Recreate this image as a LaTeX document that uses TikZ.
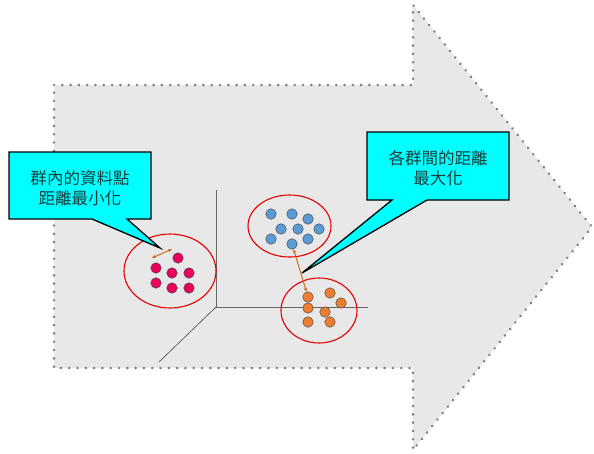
\documentclass[tikz,border=0pt]{standalone}
\usepackage{fontspec}
\newfontfamily\cjk{Noto Sans CJK TC}
\usetikzlibrary{arrows.meta,decorations.markings}
\definecolor{bgfill}{RGB}{232,232,232}
\definecolor{dotgray}{RGB}{128,128,128}
\definecolor{pinkdot}{RGB}{232,0,92}
\definecolor{bluedot}{RGB}{91,155,213}
\definecolor{orangedot}{RGB}{237,125,49}
\definecolor{arrowbrown}{RGB}{204,110,30}
\definecolor{calltext}{RGB}{30,60,60}
\definecolor{callfill}{RGB}{0,255,255}
\tikzset{
  bigarrow/.style={fill=bgfill},
  bigborder/.style={decoration={markings, mark=between positions 0 and 1 step 8.3pt with {\fill[dotgray] (0,0) circle (1.45pt);}}, decorate},
  axis/.style={draw=black!60, line width=0.8pt},
  cluster/.style={draw=red!90!black, line width=1.1pt},
  datapt/.style={circle, inner sep=0pt, minimum size=10.5pt, draw=black!70, line width=0.5pt},
  pinkpt/.style={datapt, fill=pinkdot},
  bluept/.style={datapt, fill=bluedot},
  orangept/.style={datapt, fill=orangedot},
  callout/.style={fill=callfill, draw=black, line width=1.3pt, line join=miter},
  calltxt/.style={font=\cjk\fontsize{16.5}{20}\selectfont, text=calltext, align=center, inner sep=0pt},
  distarrow/.style={draw=arrowbrown, line width=1pt, {Stealth[length=4pt,width=3.5pt]}-{Stealth[length=4pt,width=3.5pt]}},
}
\begin{document}
\begin{tikzpicture}[x=1pt,y=-1pt]
\useasboundingbox (0,0) rectangle (594,453);
% big arrow background
\path[bigarrow] (54,85) -- (413,85) -- (413,5) -- (592,227) -- (413,450) -- (413,368) -- (54,368) -- cycle;
\path[bigborder] (54,85) -- (413,85) -- (413,5) -- (592,227) -- (413,450) -- (413,368) -- (54,368) -- cycle;
% axes
\coordinate (O) at (216,307);
\coordinate (Ytop) at (216,190);
\coordinate (Xend) at (368,307);
\coordinate (Zend) at (159,362);
\draw[axis] (Ytop) -- (O) -- (Xend);
\draw[axis] (O) -- (Zend);
% cluster ellipses
\draw[cluster] (170,271) ellipse [x radius=46, y radius=37];
\draw[cluster] (289.5,226) ellipse [x radius=41.5, y radius=31];
\draw[cluster] (319,310.5) ellipse [x radius=38, y radius=32.5];
% pink points
\node[pinkpt] (p1) at (178,258) {};
\node[pinkpt] (p2) at (156,268) {};
\node[pinkpt] (p3) at (172,273) {};
\node[pinkpt] (p4) at (189,273) {};
\node[pinkpt] (p5) at (156,283) {};
\node[pinkpt] (p6) at (172,288) {};
\node[pinkpt] (p7) at (189,288) {};
% blue points
\node[bluept] (b1) at (271,214) {};
\node[bluept] (b2) at (292,214) {};
\node[bluept] (b3) at (308,219) {};
\node[bluept] (b4) at (281,229) {};
\node[bluept] (b5) at (298,229) {};
\node[bluept] (b6) at (319,229) {};
\node[bluept] (b7) at (271,239) {};
\node[bluept] (b8) at (292,244) {};
\node[bluept] (b9) at (308,239) {};
% orange points
\node[orangept] (o1) at (308,297) {};
\node[orangept] (o2) at (330,293) {};
\node[orangept] (o3) at (341,303) {};
\node[orangept] (o4) at (308,308) {};
\node[orangept] (o5) at (325,312) {};
\node[orangept] (o6) at (308,322) {};
\node[orangept] (o7) at (330,322) {};
% distance arrows
\coordinate (da1) at (152,258);
\coordinate (da2) at (172,249);
\draw[distarrow] (da1) -- (da2);
\draw[distarrow] (b8) -- (o1);
% callout 1
\path[callout] (9,152) -- (151,152) -- (151,219) -- (127,219) -- (160,248) -- (92,219) -- (9,219) -- cycle;
\node[calltxt] (t1) at (80,188) {群內的資料點\\距離最小化};
% callout 2
\path[callout] (367,132) -- (509,132) -- (509,200) -- (427,200) -- (302,273) -- (392,200) -- (367,200) -- cycle;
\node[calltxt] (t2) at (438,168) {各群間的距離\\最大化};
\end{tikzpicture}
\end{document}
